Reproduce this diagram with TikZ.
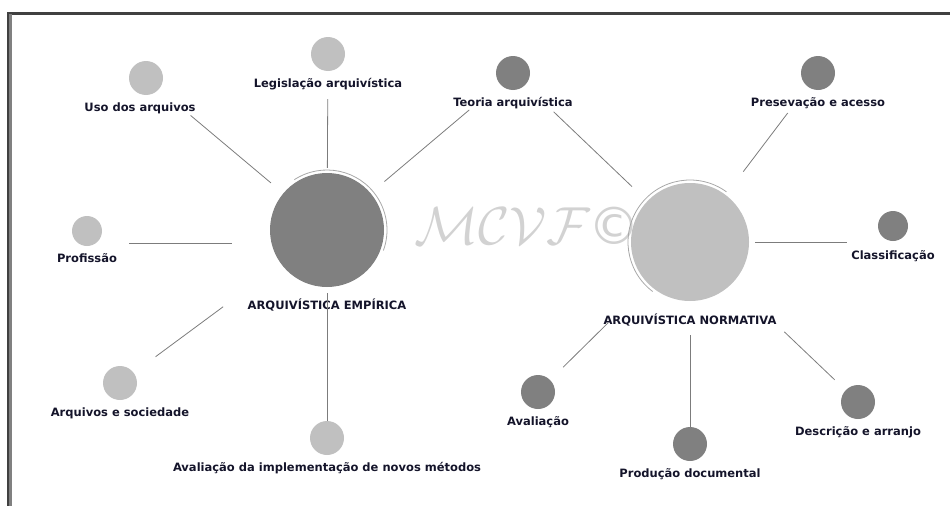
\documentclass[tikz,border=0pt]{standalone}
\usepackage{fontspec}
\setmainfont{DejaVu Sans}
\usepackage{tikz}
\usetikzlibrary{positioning}
\definecolor{darkdot}{HTML}{808080}
\definecolor{lightdot}{HTML}{C0C0C0}
\definecolor{spokegray}{HTML}{7C7C7C}
\definecolor{arcgray}{HTML}{A8A8A8}
\definecolor{framegray}{HTML}{404040}
\definecolor{inkblue}{HTML}{14142A}
\definecolor{markgray}{HTML}{D2D2D2}

\begin{document}
\begin{tikzpicture}[x=1pt, y=-1pt,
  main node/.style={circle, inner sep=0pt, minimum size=34pt},
  hub node/.style={circle, inner sep=0pt, minimum size=114pt},
  label node/.style={font=\fontsize{11.5}{13}\selectfont\bfseries, text=inkblue, inner sep=0pt},
  spoke/.style={draw=spokegray, line width=0.8pt},
  node distance=30pt]
  \useasboundingbox (0,0) rectangle (950,506);
  % frame
  \draw[framegray, line width=2.5pt] (7,13.5) -- (950,13.5);
  \draw[framegray, line width=2pt] (8,13) -- (8,506);
  \draw[gray, line width=3pt] (10.5,14) -- (10.5,506);

  % watermark
  \node (mark) at (527,226) {\scalebox{2.15}{\fontsize{24}{26}\selectfont\color{markgray}$\mathcal{MCVF}$\kern-1pt\textit{\textcopyright}}};

  \node[hub node, fill=darkdot] (emp) at (327,230) {};
  \node[label node] (label emp) [below of=emp, yshift=-45pt] {ARQUIVÍSTICA EMPÍRICA};
  \draw[arcgray, line width=0.8pt] ([shift={(emp.center)}]123:60pt) arc[start angle=123, end angle=-20, radius=60pt];

  \node[hub node, fill=lightdot, minimum size=118pt] (norm) at (690,242) {};
  \node[label node] (label norm) [below of=norm, yshift=-48pt] {ARQUIVÍSTICA NORMATIVA};
  \draw[arcgray, line width=0.8pt] ([shift={(norm.center)}]54:62pt) arc[start angle=54, end angle=233, radius=62pt];

  \node[main node, fill=lightdot] (uso) at (146,78) {};
  \node[label node] (label uso) [below of=uso, xshift=-6pt] {Uso dos arquivos};

  \node[main node, fill=lightdot] (leg) at (328,54) {};
  \node[label node] (label leg) [below of=leg] {Legislação arquivística};

  \node[main node, fill=darkdot] (teo) at (513,73) {};
  \node[label node] (label teo) [below of=teo] {Teoria arquivística};

  \node[main node, fill=lightdot, minimum size=30pt] (prof) at (87,231) {};
  \node[label node] (label prof) [below of=prof, yshift=3pt] {Profissão};

  \node[main node, fill=lightdot] (soc) at (120,383) {};
  \node[label node] (label soc) [below of=soc] {Arquivos e sociedade};

  \node[main node, fill=lightdot] (impl) at (327,438) {};
  \node[label node] (label impl) [below of=impl] {Avaliação da implementação de novos métodos};

  \node[main node, fill=darkdot] (pres) at (818,73) {};
  \node[label node] (label pres) [below of=pres] {Presevação e acesso};

  \node[main node, fill=darkdot, minimum size=30pt] (cla) at (893,226) {};
  \node[label node] (label cla) [below of=cla] {Classificação};

  \node[main node, fill=darkdot] (desc) at (858,402) {};
  \node[label node] (label desc) [below of=desc] {Descrição e arranjo};

  \node[main node, fill=darkdot] (prod) at (690,444) {};
  \node[label node] (label prod) [below of=prod] {Produção documental};

  \node[main node, fill=darkdot] (aval) at (538,392) {};
  \node[label node] (label aval) [below of=aval] {Avaliação};

  \path (emp) edge[spoke, shorten <=16pt, shorten >=41pt] (uso)
        (emp) edge[spoke, shorten <=5pt, shorten >=28pt] (leg)
        (emp) edge[spoke, shorten <=18pt, shorten >=40pt] (teo)
        (emp.194) edge[spoke, shorten <=40pt, shorten >=27pt] (emp.194 -| prof.east)
        (emp) edge[spoke, shorten <=72pt, shorten >=27pt] (soc)
        (emp) edge[spoke, shorten <=6pt] (impl)
        (norm) edge[spoke, shorten <=21pt, shorten >=39pt] (teo)
        (norm) edge[spoke, shorten <=29pt, shorten >=33pt] (pres)
        (norm) edge[spoke, shorten <=6pt, shorten >=31pt] (norm -| cla.west)
        (norm) edge[spoke, shorten <=71pt, shorten >=15pt] (desc)
        (norm) edge[spoke, shorten <=34pt] (prod)
        (norm) edge[spoke, shorten <=56pt, shorten >=18pt] (aval);
\end{tikzpicture}
\end{document}
